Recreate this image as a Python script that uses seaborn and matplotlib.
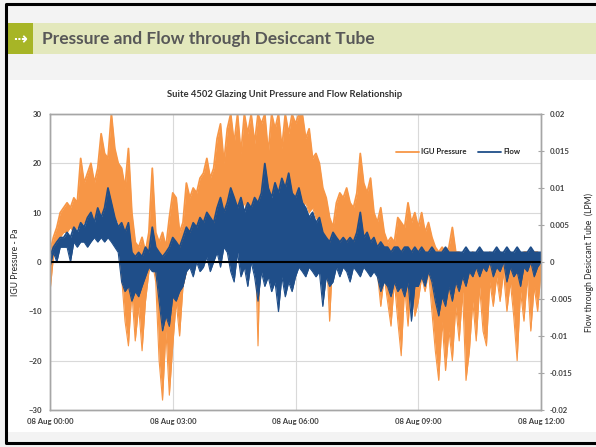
import pandas as pd
import matplotlib
matplotlib.use("Agg")
import matplotlib.pyplot as plt
import matplotlib.dates as mdates
from matplotlib.patches import Rectangle
from matplotlib.lines import Line2D
from matplotlib.ticker import FuncFormatter, MultipleLocator
import seaborn as sns

# 5-minute samples, 08 Aug 00:00 -> 12:00 (upper / lower envelope of the raw trace)
pressure_hi = [
    2, 5, 7, 10, 11, 12, 11, 13, 12, 21, 16, 18,
    20, 16, 19, 26, 22, 21, 30, 23, 20, 19, 15, 23,
    10, 4, 3, 5, 2, 6, 19, 6, 4, 6, 3, 9,
    14, 13, 6, 8, 16, 13, 15, 14, 17, 18, 21, 17,
    19, 25, 28, 20, 27, 30, 24, 30, 22, 30, 26, 30,
    24, 30, 28, 30, 22, 30, 27, 30, 23, 30, 26, 30,
    28, 30, 30, 25, 27, 21, 22, 20, 15, 13, 9, 7,
    12, 14, 13, 15, 12, 11, 14, 22, 16, 14, 17, 10,
    8, 11, 6, 4, 5, 4, 9, 8, 7, 12, 8, 10,
    7, 10, 6, 8, 5, 3, 2, 3, 2, 3, 7, 2,
    2, 1, 2, 1, 2, 1, 2, 2, 1, 2, 1, 2,
    2, 1, 2, 2, 1, 2, 1, 2, 2, 1, 2, 2,
    1]
pressure_lo = [
    -6, 1, 3, 5, 6, 6, 7, 6, 7, 7, 8, 8,
    8, 9, 8, 10, 9, 10, 11, 9, 8, -3, -12, -17,
    -6, -16, -9, -18, -8, -2, 0, -4, -20, -28, -14, -27,
    -17, -8, -15, -5, -2, 0, 2, 3, 1, 4, 3, 5,
    4, 6, 8, 9, 8, 10, 9, 11, 10, 12, 10, 11,
    9, -17, 12, 13, 12, 14, 13, 12, 14, 13, 12, 14,
    12, 13, 11, 12, 10, 11, 9, 8, 4, 3, -12, 2,
    3, 4, 3, 2, 3, 2, 3, 4, 2, 1, 2, 0,
    -2, -9, -3, -8, -13, -4, -12, -19, -5, -13, -3, -11,
    -8, -3, -6, -2, -10, -18, -24, -12, -22, -14, -20, -9,
    -16, -6, -24, -18, -8, -16, -5, -14, -17, -4, -9, -3,
    -8, -2, -10, -4, -11, -20, -6, -12, -3, -14, -5, -10,
    -2]
flow_hi = [
    0.0007, 0.002, 0.0027, 0.0033, 0.0033, 0.004, 0.0033, 0.0047, 0.004, 0.0053, 0.0047, 0.006,
    0.0067, 0.0053, 0.0073, 0.006, 0.0073, 0.01, 0.008, 0.006, 0.0047, 0.0053, 0.004, 0.0053,
    0.0013, 0.0007, 0.0013, 0.0007, 0.002, 0.0013, 0.0047, 0.002, 0.0013, 0.0007, 0.0013, 0.002,
    0.0033, 0.0027, 0.002, 0.0033, 0.0047, 0.004, 0.0053, 0.0047, 0.006, 0.0053, 0.0067, 0.006,
    0.0053, 0.0073, 0.0087, 0.0067, 0.008, 0.01, 0.0087, 0.0073, 0.0087, 0.0067, 0.008, 0.0073,
    0.0087, 0.008, 0.0093, 0.0133, 0.01, 0.0087, 0.0107, 0.0093, 0.0113, 0.01, 0.012, 0.0093,
    0.0087, 0.01, 0.008, 0.0073, 0.006, 0.0067, 0.0053, 0.006, 0.004, 0.0033, 0.0027, 0.004,
    0.0033, 0.0027, 0.0033, 0.0027, 0.0033, 0.0027, 0.004, 0.0067, 0.0033, 0.004, 0.0027, 0.0033,
    0.002, 0.0027, 0.002, 0.002, 0.0013, 0.002, 0.002, 0.0013, 0.002, 0.002, 0.0013, 0.002,
    0.0013, 0.002, 0.0013, 0.0013, 0.002, 0.0013, 0.0013, 0.0013, 0.002, 0.0013, 0.0013, 0.0013,
    0.0013, 0.0013, 0.002, 0.0013, 0.0013, 0.0013, 0.002, 0.0013, 0.0013, 0.0013, 0.0013, 0.002,
    0.0013, 0.0013, 0.002, 0.0013, 0.0013, 0.002, 0.0013, 0.0013, 0.0013, 0.002, 0.0013, 0.0013,
    0.0013]
flow_lo = [
    -0.0007, 0.0013, 0.0, 0.002, 0.002, 0.002, 0.0, 0.0027, 0.002, 0.0027, 0.0027, 0.002,
    0.0027, 0.0033, 0.0027, 0.0033, 0.0027, 0.0033, 0.0027, 0.002, 0.0013, -0.0027, -0.004, -0.0033,
    -0.0053, -0.004, -0.0047, -0.0033, -0.002, -0.0007, -0.0013, -0.0013, -0.0053, -0.0093, -0.0073, -0.0087,
    -0.0047, -0.0053, -0.004, -0.0033, -0.0013, -0.0007, -0.002, 0.0, -0.0013, -0.0007, 0.0007, -0.0013,
    0.0, 0.0013, -0.0007, 0.002, 0.0013, -0.0013, -0.0027, 0.0013, -0.002, -0.0007, -0.0033, 0.0,
    -0.002, -0.0053, -0.0013, -0.0033, -0.002, -0.004, -0.0027, -0.0067, -0.002, -0.0047, -0.0027, -0.004,
    -0.002, -0.0007, -0.0013, -0.002, -0.0007, -0.0013, -0.002, -0.0013, -0.006, -0.002, -0.0033, -0.0027,
    -0.0007, -0.002, -0.0007, -0.0013, -0.0027, -0.0007, -0.0013, -0.002, -0.0007, -0.0013, -0.002, -0.0013,
    -0.002, -0.004, -0.0027, -0.0033, -0.0047, -0.0027, -0.004, -0.0033, -0.0047, -0.0027, -0.008, -0.0033,
    -0.0033, -0.002, -0.0033, -0.0013, -0.0027, -0.0053, -0.0073, -0.0047, -0.006, -0.0033, -0.0053, -0.0027,
    -0.004, -0.002, -0.0033, -0.0013, -0.002, -0.0007, -0.002, -0.0007, -0.0013, 0.0, -0.002, -0.0007,
    -0.0013, 0.0, -0.0027, -0.0007, -0.002, -0.0013, -0.0033, -0.0007, -0.0013, 0.0, -0.002, -0.0007,
    0.0]

times = pd.date_range("2011-08-08 00:00", periods=len(pressure_hi), freq="5min")
x_ticks = pd.date_range("2011-08-08 00:00", periods=5, freq="3h")

orange = "#f79646"
navy = "#1f4e89"

sns.set_style("white")
plt.rcParams["font.family"] = ["Lato", "DejaVu Sans"]
plt.rcParams["font.weight"] = "bold"

W, H = 596, 447
fig = plt.figure(figsize=(W / 100, H / 100), dpi=100)
fig.patch.set_facecolor("#f3f3f3")


def px_rect(x0, y0, x1, y1, z=-5, **kw):
    fig.add_artist(Rectangle((x0 / W, 1 - y1 / H), (x1 - x0) / W, (y1 - y0) / H,
                             transform=fig.transFigure, zorder=z, **kw))


def px_line(xs, ys):
    fig.add_artist(Line2D([x / W for x in xs], [1 - y / H for y in ys],
                          transform=fig.transFigure, color="black", lw=2.2, zorder=10))


# slide decoration (behind the axes)
px_rect(6, 23, 596, 54, facecolor="#e3e8bc", edgecolor="none")
px_rect(6, 23, 33, 54, facecolor="#a7b526", edgecolor="none")
px_rect(6, 80, 596, 432, facecolor="white", edgecolor="none")
px_line([596, 6, 6, 596], [4, 4, 443, 443])
fig.text(19.5 / W, 1 - 39 / H, "⇢", color="white", fontsize=12, ha="center", va="center",
         family="DejaVu Sans")
fig.text(42 / W, 1 - 39 / H, "Pressure and Flow through Desiccant Tube", color="#585858",
         fontsize=12.5, ha="left", va="center")
fig.text(285 / W, 1 - 94 / H, "Suite 4502 Glazing Unit Pressure and Flow Relationship",
         color="#333333", fontsize=6.8, ha="center", va="center")

ax = fig.add_axes([50 / W, 1 - 410 / H, 491 / W, 296 / H])
ax.set_facecolor("white")

# pressure
ax.fill_between(times, pressure_lo, pressure_hi, color=orange, lw=0)
sns.lineplot(x=times, y=pressure_hi, ax=ax, color=orange, lw=0.8, label="IGU Pressure")
sns.lineplot(x=times, y=pressure_lo, ax=ax, color=orange, lw=0.8)
ax.set_ylim(-30, 30)
ax.yaxis.set_major_locator(MultipleLocator(10))
ax.set_xlim(times[0], times[-1])
ax.set_xticks(x_ticks)
ax.xaxis.set_major_formatter(mdates.DateFormatter("%d %b %H:%M"))
ax.grid(True, color="#d9d9d9", lw=0.8)
ax.set_axisbelow(True)
ax.set_ylabel("IGU Pressure - Pa", fontsize=6.2)
ax.yaxis.set_label_coords(-0.062, 0.5)
ax.set_xlabel("")

# flow on secondary axis
ax2 = ax.twinx()
ax2.fill_between(times, flow_lo, flow_hi, color=navy, lw=0)
sns.lineplot(x=times, y=flow_hi, ax=ax2, color=navy, lw=0.8, label="Flow")
sns.lineplot(x=times, y=flow_lo, ax=ax2, color=navy, lw=0.8)
ax2.set_ylim(-0.02, 0.02)
ax2.yaxis.set_major_locator(MultipleLocator(0.005))
ax2.yaxis.set_major_formatter(FuncFormatter(lambda v, p: f"{v:g}" if abs(v) > 1e-9 else "0"))
ax2.set_ylabel("Flow through Desiccant Tube  (LPM)", fontsize=6.2)
ax2.yaxis.set_label_coords(1.089, 0.5)
ax2.axhline(0, color="black", lw=1.5)

for a in (ax, ax2):
    for s in a.spines.values():
        s.set_color("#a6a6a6")
        s.set_linewidth(1.0)
ax.tick_params(axis="both", labelsize=5.6, colors="#404040", length=0, pad=6)
ax2.tick_params(axis="y", labelsize=5.6, colors="#404040", length=4, direction="inout",
                color="#a6a6a6", pad=4)

h1, l1 = ax.get_legend_handles_labels()
h2, l2 = ax2.get_legend_handles_labels()
ax.get_legend().remove()
ax2.get_legend().remove()
for h in h1 + h2:
    h.set_linewidth(1.3)
ax2.legend(h1 + h2, l1 + l2, loc="center", bbox_to_anchor=(458 / W, 1 - 152 / H),
           bbox_transform=fig.transFigure, ncol=2, frameon=False, fontsize=5.6,
           handlelength=3, columnspacing=1.4, handletextpad=0.3)

fig.savefig("out.png", dpi=100)
